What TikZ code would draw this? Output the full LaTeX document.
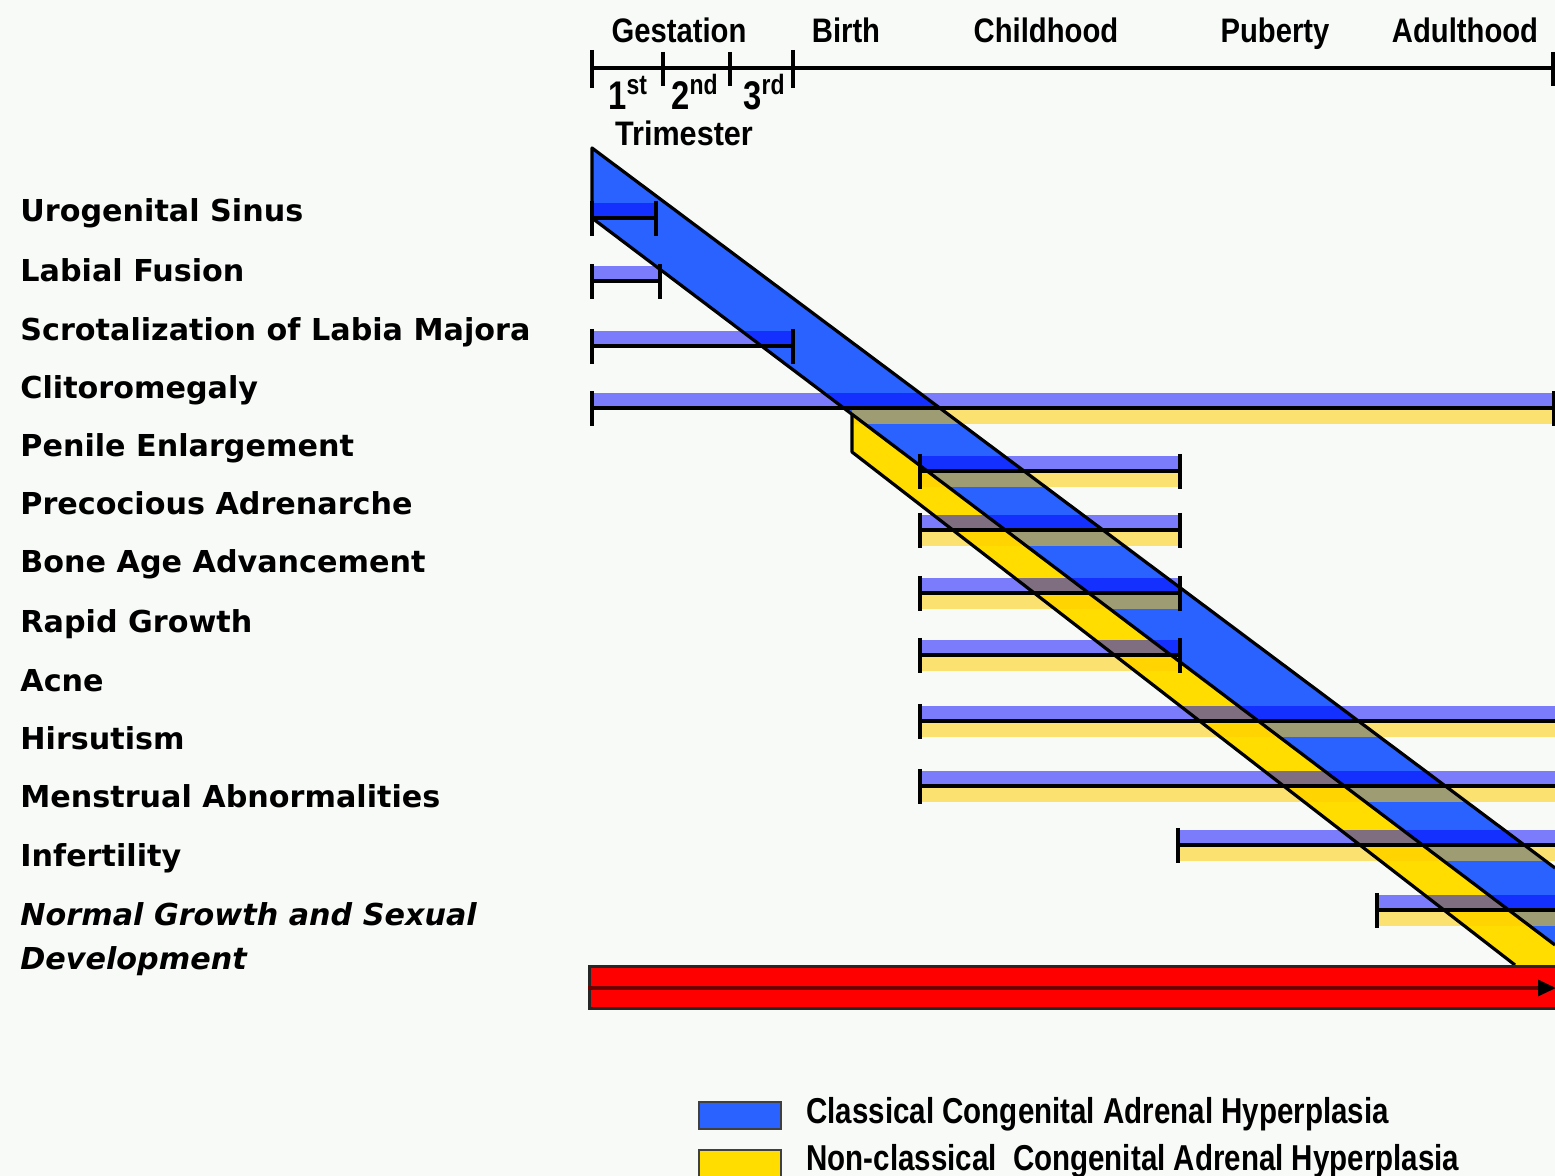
\documentclass[tikz,border=0pt]{standalone}
\usepackage{fontspec}
\usepackage{graphicx}
\setmainfont{Liberation Sans}
\newfontfamily\labfam{DejaVu Sans}
\usetikzlibrary{arrows.meta}
\definecolor{bg}{RGB}{247,250,247}
\definecolor{bandblue}{RGB}{41,98,255}
\definecolor{bandyellow}{RGB}{255,221,0}
\definecolor{ybar}{RGB}{255,205,0}
\definecolor{redbar}{RGB}{255,0,0}
\definecolor{darkred}{RGB}{110,0,0}
\tikzset{
  lab/.style={anchor=base west, inner sep=0pt, font=\labfam\bfseries\fontsize{15.1}{18}\selectfont},
  labit/.style={lab, font=\labfam\bfseries\itshape\fontsize{15.1}{18}\selectfont},
  hdr/.style={anchor=base, inner sep=0pt, font=\bfseries\fontsize{17}{20}\selectfont},
  trim/.style={anchor=base west, inner sep=0pt, font=\bfseries\fontsize{20}{22}\selectfont},
  lgtext/.style={anchor=west, inner sep=0pt, font=\bfseries\fontsize{18}{21}\selectfont},
  bandedge/.style={draw=black, line width=1.6pt, line join=round},
  lav/.style={fill=blue, fill opacity=0.5},
  yel/.style={fill=ybar, fill opacity=0.55},
  barline/.style={draw=black, line width=1.6pt},
  tickmark/.style={draw=black, line width=1.6pt},
  swatch/.style={draw=black!75, line width=1pt, minimum width=41pt, minimum height=13.5pt, inner sep=0pt},
}
\begin{document}
\begin{tikzpicture}[x=0.5pt,y=-0.5pt]
\useasboundingbox[fill=bg] (0,0) rectangle (1555,1176);

% ---- time axis ----
\coordinate (axL) at (592,68);
\coordinate (axR) at (1555,68);
\draw[line width=1.6pt] (axL) -- (axR);
\foreach \x/\a/\b in {592/50/88, 663/52/86, 730/52/86, 793/50/88, 1553/52/86}
  \draw[tickmark] (\x,\a) -- (\x,\b);
\node[hdr] (gest) at (679,43) {\scalebox{0.86}[1]{Gestation}};
\node[hdr] (birth) at (846,43) {\scalebox{0.86}[1]{Birth}};
\node[hdr] (child) at (1046,43) {\scalebox{0.86}[1]{Childhood}};
\node[hdr] (pub) at (1275,43) {\scalebox{0.86}[1]{Puberty}};
\node[hdr] (adult) at (1465,43) {\scalebox{0.86}[1]{Adulthood}};
\node[trim] (t1) at (608,110) {\scalebox{0.82}[1]{1\textsuperscript{st}}};
\node[trim] (t2) at (671,110) {\scalebox{0.82}[1]{2\textsuperscript{nd}}};
\node[trim] (t3) at (743,110) {\scalebox{0.82}[1]{3\textsuperscript{rd}}};
\node[hdr] (trimester) at (684,146) {\scalebox{0.9}[1]{Trimester}};

% ---- row labels ----
\node[lab] (l1) at (20,222) {Urogenital Sinus};
\node[lab] (l2) at (20,282) {Labial Fusion};
\node[lab] (l3) at (20,341) {Scrotalization of Labia Majora};
\node[lab] (l4) at (20,399) {Clitoromegaly};
\node[lab] (l5) at (20,457) {Penile Enlargement};
\node[lab] (l6) at (20,515) {Precocious Adrenarche};
\node[lab] (l7) at (20,573) {Bone Age Advancement};
\node[lab] (l8) at (20,633) {Rapid Growth};
\node[lab] (l9) at (20,692) {Acne};
\node[lab] (l10) at (20,750) {Hirsutism};
\node[lab] (l11) at (20,808) {Menstrual Abnormalities};
\node[lab] (l12) at (20,866) {Infertility};
\node[labit] (l13) at (20,925) {Normal Growth and Sexual};
\node[labit] (l14) at (20,969) {Development};

% ---- bands ----
\coordinate (bA) at (592,148);
\coordinate (bB) at (1555,868);
\coordinate (bC) at (1555,945);
\coordinate (bD) at (592,218);
\coordinate (yA) at (852,414.3);
\coordinate (yB) at (1555,965);
\coordinate (yC) at (1515,965);
\coordinate (yD) at (852,452);
\fill[bandblue] (bA) -- (bB) -- (bC) -- (bD) -- cycle;
\fill[bandyellow] (yA) -- (bC) -- (yB) -- (yC) -- (yD) -- cycle;

% ---- bars ----
\foreach \xa/\xb/\L/\ys in {592/656/218/0, 592/660/281/0, 592/793/346/0, 592/1555/408/852,
   920/1180/471/920, 920/1180/530/920, 920/1180/593/920, 920/1180/655/920,
   920/1555/721/920, 920/1555/786/920, 1178/1555/845/1178, 1377/1555/910/1377}{
  \fill[lav] (\xa,{\L-15}) rectangle (\xb,\L);
  \ifnum\ys>0 \fill[yel] (\ys,\L) rectangle (\xb,{\L+16}); \fi
  \draw[barline] (\xa,\L) -- (\xb,\L);
  \draw[tickmark] (\xa,{\L-17}) -- (\xa,{\L+18});
  \ifnum\xb<1555 \draw[tickmark] (\xb,{\L-17}) -- (\xb,{\L+18}); \fi
}
\draw[tickmark] (1554,391) -- (1554,426);

% ---- band outlines ----
\draw[bandedge] (bD) -- (bA) -- (bB);
\draw[bandedge] (bD) -- (bC);
\draw[bandedge] (yA) -- (yD) -- (yC);

% ---- normal development bar ----
\node[draw=black!85, line width=1.5pt, fill=redbar, minimum width=483.5pt, minimum height=21pt, inner sep=0pt, anchor=north west] (red) at (588,965) {};
\coordinate (rS) at (588,988);
\coordinate (rE) at (1556,988);
\draw[darkred, line width=1.6pt, -{Triangle[length=9pt,width=8pt,color=black]}] (rS) -- (rE);

% ---- legend ----
\node[swatch, fill=bandblue] (sw1) at (739.5,1115) {};
\node[swatch, fill=bandyellow] (sw2) at (739.5,1163) {};
\node[lgtext] (lg1) at (806,1114) {\scalebox{0.82}[1]{Classical Congenital Adrenal Hyperplasia}};
\node[lgtext] (lg2) at (806,1161) {\scalebox{0.82}[1]{Non-classical\ \ Congenital Adrenal Hyperplasia}};
\end{tikzpicture}
\end{document}
